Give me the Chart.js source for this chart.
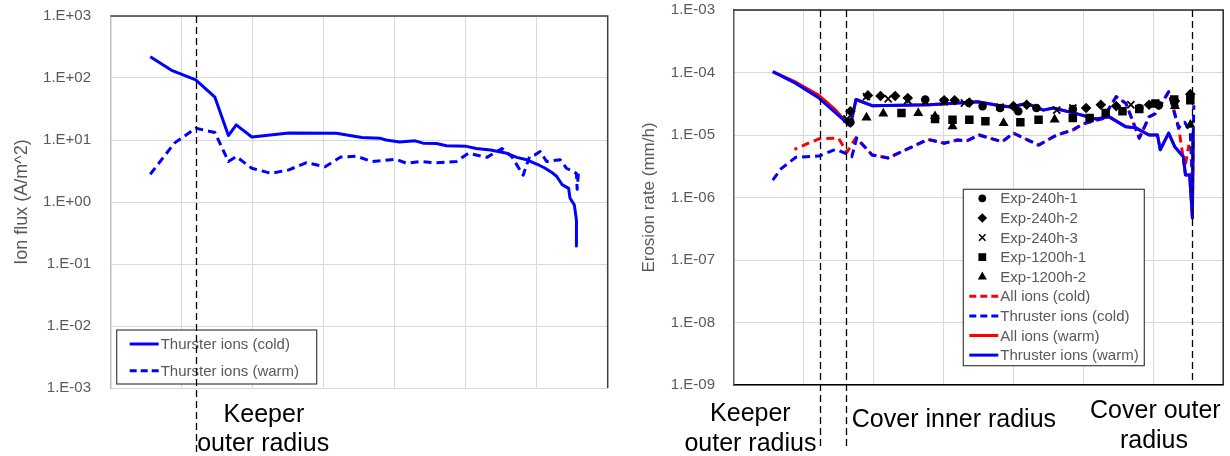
<!DOCTYPE html>
<html>
<head>
<meta charset="utf-8">
<script src="https://cdn.jsdelivr.net/npm/chart.js@4.4.1/dist/chart.umd.min.js"></script>
<style>
  html, body { margin: 0; padding: 0; background: #fff; }
  #wrap { position: relative; width: 1230px; height: 456px; overflow: hidden; }
  canvas { position: absolute; top: 0; }
</style>
</head>
<body>
<div id="wrap">
  <canvas id="flux" width="615" height="456" style="left:0;width:615px;height:456px"></canvas>
  <canvas id="erosion" width="615" height="456" style="left:615px;width:615px;height:456px"></canvas>
</div>
<script>
'use strict';

var FONT = '"Liberation Sans", Arial, sans-serif';

// x positions are in units of the (unlabelled) vertical grid spacing
var xGridTicks = [0, 1, 2, 3, 4, 5, 6, 7];

/////////////////////////////////////////////////////////////////////////////////
// Left panel: ion flux

var fluxTicks = [1e-3, 1e-2, 1e-1, 1e0, 1e1, 1e2, 1e3];

var coldX = [0.56, 0.87, 1.20, 1.47, 1.66, 1.77, 1.99, 2.51, 3.18, 3.54, 3.79, 3.88, 4.07, 4.29, 4.40, 4.59, 4.73,
    5.01, 5.15, 5.35, 5.58, 5.72, 5.86, 6.00, 6.12, 6.23, 6.28, 6.36, 6.45, 6.47, 6.53, 6.56, 6.56];
var coldFlux = [221, 131, 93, 49, 11.8, 17.5, 11.2, 13, 12.8, 11, 10.7, 10, 9.3, 9.7, 8.9, 8.8, 8.1,
    7.9, 7.3, 6.9, 6.1, 5.25, 4.8, 4.1, 3.5, 2.9, 2.6, 1.9, 1.66, 1.15, 0.9, 0.51, 0.195];

var warmX = [0.56, 0.90, 1.20, 1.47, 1.66, 1.77, 1.99, 2.26, 2.51, 2.76, 3.02, 3.24, 3.46, 3.68,
    4.02, 4.17, 4.36, 4.58, 4.87, 5.04, 5.30, 5.51, 5.65, 5.81, 5.90, 5.97, 6.05, 6.14, 6.33, 6.42, 6.56, 6.57, 6.59];
var warmFlux = [2.8, 8.9, 15.5, 13.2, 4.5, 5.4, 3.5, 2.9, 3.3, 4.3, 3.7, 5.3, 5.5, 4.5,
    4.9, 4.2, 4.5, 4.3, 4.5, 6.1, 5.25, 7.3, 5.4, 2.7, 5.4, 5.7, 6.5, 4.5, 4.8, 3.5, 2.9, 1.6, 3.2];

var fluxGuides = [1.20];
var fluxNotes = ['Keeper', 'outer radius'];

/////////////////////////////////////////////////////////////////////////////////
// Right panel: erosion rate

var erosionTicks = [1e-9, 1e-8, 1e-7, 1e-6, 1e-5, 1e-4, 1e-3];

var exp240h1X = [1.67, 2.74, 3.56, 3.81, 4.07, 4.33, 4.85, 5.80, 6.08, 6.53];
var exp240h1 = [1.6e-5, 3.7e-5, 2.9e-5, 2.7e-5, 2.4e-5, 2.7e-5, 2.6e-5, 2.7e-5, 3.0e-5, 4.2e-5];

var exp240h2X = [1.67, 1.92, 2.10, 2.31, 2.49, 3.01, 3.16, 3.37, 4.00, 4.19, 5.04, 5.25, 5.47, 5.94, 6.31, 6.53];
var exp240h2 = [2.4e-5, 4.3e-5, 4.2e-5, 4.2e-5, 3.9e-5, 3.6e-5, 3.6e-5, 3.3e-5, 2.9e-5, 3.05e-5, 2.7e-5,
    3.05e-5, 2.9e-5, 3.05e-5, 3.5e-5, 4.5e-5];

var exp240h3X = [1.62, 1.90, 2.21, 2.49, 2.74, 3.01, 3.30, 3.81, 4.62, 4.85, 5.68, 6.31];
var exp240h3 = [1.8e-5, 4.1e-5, 3.8e-5, 3.6e-5, 3.4e-5, 3.4e-5, 3.25e-5, 2.8e-5, 2.5e-5, 2.7e-5, 3.05e-5, 3.3e-5];

var exp1200h1X = [2.40, 2.88, 3.13, 3.37, 3.60, 4.10, 4.36, 4.85, 5.09, 5.32, 5.56, 5.80, 6.03, 6.30, 6.53];
var exp1200h1 = [2.25e-5, 1.8e-5, 1.76e-5, 1.76e-5, 1.66e-5, 1.6e-5, 1.76e-5, 1.87e-5, 1.87e-5, 2.25e-5,
    2.4e-5, 2.6e-5, 3.2e-5, 3.7e-5, 3.6e-5];

var exp1200h2X = [1.90, 2.14, 2.64, 2.88, 3.13, 3.86, 4.59, 6.31, 6.53];
var exp1200h2 = [1.9e-5, 2.2e-5, 2.25e-5, 2.0e-5, 1.38e-5, 1.55e-5, 1.76e-5, 2.9e-5, 1.46e-5];

var allColdX = [0.87, 1.22, 1.50, 1.62, 1.75, 1.98, 2.21, 2.78, 3.01, 3.20, 3.34, 3.51, 3.84, 4.00, 4.36, 4.62,
    4.85, 4.99, 5.28, 5.47, 5.61, 5.80, 5.94, 6.03, 6.22, 6.36, 6.45, 6.51];
var allCold = [5.9e-6, 8.7e-6, 8.9e-6, 5.3e-6, 9.1e-6, 4.8e-6, 4.3e-6, 8.5e-6, 7.4e-6, 8.3e-6, 8.1e-6, 1.0e-5,
    7.8e-6, 1.07e-5, 6.9e-6, 1.0e-5, 1.2e-5, 1.5e-5, 1.84e-5, 4.1e-5, 3.2e-5, 8.9e-6, 1.95e-5, 2.2e-5,
    4.9e-5, 1.4e-5, 2.9e-6, 7.0e-6];

var thrColdX = [0.56, 0.68, 0.89, 1.22, 1.46, 1.60, 1.69, 1.76, 1.98, 2.21, 2.78, 3.01, 3.20, 3.34, 3.51, 3.84,
    4.00, 4.36, 4.62, 4.85, 4.99, 5.28, 5.47, 5.61, 5.80, 5.94, 6.03, 6.22, 6.36, 6.45, 6.53, 6.56, 6.58];
var thrCold = [1.9e-6, 2.9e-6, 4.4e-6, 4.6e-6, 5.9e-6, 5.1e-6, 4.5e-6, 8.9e-6, 4.8e-6, 4.3e-6, 8.5e-6, 7.4e-6,
    8.3e-6, 8.1e-6, 1.0e-5, 7.8e-6, 1.07e-5, 6.9e-6, 1.0e-5, 1.2e-5, 1.5e-5, 1.84e-5, 4.1e-5, 3.2e-5, 8.9e-6,
    1.95e-5, 2.2e-5, 4.9e-5, 1.3e-5, 1.6e-5, 1.1e-5, 1.5e-6, 3.0e-5];

var allWarmX = [0.56, 0.89, 1.22, 1.46, 1.62, 1.67, 1.75, 1.98, 2.80, 3.49, 3.77, 3.96, 4.19, 4.43, 4.57, 4.90,
    5.18, 5.37, 5.61, 5.75, 5.94, 6.06, 6.10, 6.22, 6.31, 6.43, 6.46, 6.52, 6.56, 6.57];
var allWarm = [1.03e-4, 7.0e-5, 4.3e-5, 2.5e-5, 1.55e-5, 1.45e-5, 3.7e-5, 2.95e-5, 3.05e-5, 3.4e-5, 3.0e-5,
    2.8e-5, 3.2e-5, 2.5e-5, 2.7e-5, 2.2e-5, 1.8e-5, 1.95e-5, 1.35e-5, 1.3e-5, 1.0e-5, 1.0e-5, 5.8e-6, 1.07e-5,
    6.4e-6, 4.5e-6, 2.3e-6, 2.3e-6, 4.7e-7, 1.0e-5];

var thrWarmX = [0.56, 0.89, 1.22, 1.60, 1.67, 1.75, 1.98, 2.80, 3.49, 3.77, 3.96, 4.19, 4.43, 4.57, 4.90, 5.18,
    5.37, 5.61, 5.75, 5.94, 6.06, 6.10, 6.22, 6.31, 6.43, 6.46, 6.52, 6.56, 6.57];
var thrWarm = [1.03e-4, 6.7e-5, 3.9e-5, 1.63e-5, 1.39e-5, 3.7e-5, 2.95e-5, 3.05e-5, 3.4e-5, 3.0e-5, 2.8e-5,
    3.2e-5, 2.5e-5, 2.7e-5, 2.2e-5, 1.8e-5, 1.95e-5, 1.35e-5, 1.3e-5, 1.0e-5, 1.0e-5, 5.8e-6, 1.07e-5,
    6.4e-6, 4.5e-6, 2.3e-6, 2.3e-6, 4.7e-7, 1.0e-5];

var erosionGuides = [1.23, 1.60, 6.55];
var erosionNotes = ['Keeper', 'outer radius', 'Cover inner radius', 'Cover outer', 'radius'];

/////////////////////////////////////////////////////////////////////////////////
// Helpers

function pts(xs, ys) {
    return xs.map(function(x, i) { return {x: x, y: ys[i]}; });
}

function sciLabel(v) {
    var e = Math.round(Math.log10(v));
    return '1.E' + (e < 0 ? '-' : '+') + String(Math.abs(e)).padStart(2, '0');
}

function lineSet(label, xs, ys, color, dash, order, dashOffset) {
    return {
        label: label, data: pts(xs, ys), showLine: true, order: order,
        borderColor: color, backgroundColor: color, borderWidth: 3,
        borderDash: dash || [], borderDashOffset: dashOffset || 0,
        borderCapStyle: 'butt', borderJoinStyle: 'round',
        pointRadius: 0, tension: 0
    };
}

function markerSet(label, xs, ys, style, radius) {
    return {
        label: label, data: pts(xs, ys), showLine: false, order: 0,
        pointStyle: style, pointRadius: radius, pointHoverRadius: radius,
        backgroundColor: '#000', borderColor: '#000', borderWidth: style === 'crossRot' ? 1.8 : 0
    };
}

// legend glyphs, same shapes as the chart markers
function drawMarker(ctx, style, x, y, r) {
    ctx.beginPath();
    if (style === 'circle') {
        ctx.arc(x, y, r, 0, Math.PI * 2);
        ctx.fill();
    } else if (style === 'rectRot') {
        ctx.moveTo(x, y - r); ctx.lineTo(x + r, y); ctx.lineTo(x, y + r); ctx.lineTo(x - r, y);
        ctx.closePath(); ctx.fill();
    } else if (style === 'rect') {
        ctx.rect(x - r * 0.72, y - r * 0.72, r * 1.44, r * 1.44);
        ctx.fill();
    } else if (style === 'triangle') {
        ctx.moveTo(x, y - r); ctx.lineTo(x + r * 0.87, y + r * 0.55); ctx.lineTo(x - r * 0.87, y + r * 0.55);
        ctx.closePath(); ctx.fill();
    } else if (style === 'crossRot') {
        var d = r * 0.72;
        ctx.lineWidth = 1.6;
        ctx.moveTo(x - d, y - d); ctx.lineTo(x + d, y + d);
        ctx.moveTo(x + d, y - d); ctx.lineTo(x - d, y + d);
        ctx.stroke();
    }
}

// frame edges, legend box, dashed guide lines and the radius notes
function decor(cfg) {
    return {
        id: 'decor',
        afterDraw: function(chart) {
            var ctx = chart.ctx;
            var a = chart.chartArea;
            var xs = chart.scales.x;
            ctx.save();

            ctx.strokeStyle = cfg.frameColor;
            ctx.lineWidth = 1.5;
            ctx.beginPath();
            ctx.moveTo(a.left, a.top);
            ctx.lineTo(a.right, a.top);
            ctx.lineTo(a.right, a.bottom);
            ctx.stroke();

            // legend
            var lg = cfg.legend;
            ctx.fillStyle = '#fff';
            ctx.fillRect(lg.x, lg.y, lg.w, lg.h);
            ctx.strokeStyle = '#404040';
            ctx.lineWidth = 1.2;
            ctx.strokeRect(lg.x, lg.y, lg.w, lg.h);
            ctx.font = '15px ' + FONT;
            ctx.textBaseline = 'middle';
            ctx.textAlign = 'left';
            chart.data.datasets.forEach(function(ds, i) {
                var y = lg.y + lg.first + i * lg.step;
                ctx.fillStyle = ds.backgroundColor;
                ctx.strokeStyle = ds.borderColor;
                if (ds.showLine) {
                    ctx.lineWidth = 3;
                    ctx.setLineDash(ds.borderDash.length ? [7, 4] : []);
                    ctx.beginPath();
                    ctx.moveTo(lg.x + lg.sample[0], y);
                    ctx.lineTo(lg.x + lg.sample[1], y);
                    ctx.stroke();
                    ctx.setLineDash([]);
                } else {
                    drawMarker(ctx, ds.pointStyle, lg.x + lg.marker, y, ds.pointRadius * lg.markerScale);
                }
                ctx.fillStyle = '#595959';
                ctx.fillText(ds.label, lg.x + lg.text, y + 1);
            });

            // dashed guide lines
            ctx.setLineDash([7, 4]);
            ctx.strokeStyle = '#000';
            ctx.lineWidth = 1.3;
            cfg.guides.forEach(function(v, i) {
                var px = Math.round(xs.getPixelForValue(v)) + 0.5;
                ctx.beginPath();
                ctx.moveTo(px, a.top);
                ctx.lineTo(px, cfg.guideEnds[i]);
                ctx.stroke();
            });
            ctx.setLineDash([]);

            // notes under the axis
            ctx.fillStyle = '#000';
            ctx.font = '25px ' + FONT;
            ctx.textAlign = 'center';
            ctx.textBaseline = 'alphabetic';
            cfg.notes.forEach(function(text, i) {
                var p = cfg.notePos[i];
                ctx.fillText(text, xs.getPixelForValue(p[0]), p[1]);
            });

            ctx.restore();
        }
    };
}

function xAxis(borderColor, borderWidth) {
    return {
        type: 'linear', min: 0, max: 7,
        afterBuildTicks: function(s) { s.ticks = xGridTicks.map(function(v) { return {value: v}; }); },
        afterFit: function(s) { s.height = 0; s.paddingLeft = 0; s.paddingRight = 0; },
        ticks: {display: false},
        grid: {color: '#d9d9d9', lineWidth: 1, drawTicks: false},
        border: {color: borderColor, width: borderWidth}
    };
}

function yAxis(ticks, title, width, tickPad, titlePad, titleSize, borderColor) {
    return {
        type: 'logarithmic',
        min: ticks[0], max: ticks[ticks.length - 1],
        afterBuildTicks: function(s) { s.ticks = ticks.map(function(v) { return {value: v}; }); },
        // fixed axis width; drop the label overhang so the plot top sits on the layout padding
        afterFit: function(s) { s.width = width; s.paddingTop = 0; s.paddingBottom = 0; },
        ticks: {
            callback: function(v) { return sciLabel(v); },
            color: '#595959', font: {family: FONT, size: 15}, padding: tickPad, autoSkip: false
        },
        grid: {color: '#d9d9d9', lineWidth: 1, drawTicks: false},
        border: {color: borderColor, width: 1.5},
        title: {
            display: true, text: title, color: '#595959',
            font: {family: FONT, size: titleSize}, padding: {top: titlePad, bottom: 0}
        }
    };
}

var baseOptions = {
    responsive: false,
    animation: false,
    devicePixelRatio: 1,
    plugins: {legend: {display: false}, tooltip: {enabled: false}}
};

/////////////////////////////////////////////////////////////////////////////////
// Left chart

new Chart(document.getElementById('flux'), {
    type: 'scatter',
    data: {
        datasets: [
            lineSet('Thurster ions (cold)', coldX, coldFlux, '#0000ff', null, 1),
            lineSet('Thurster ions (warm)', warmX, warmFlux, '#0000ff', [8, 5], 2)
        ]
    },
    options: Object.assign({}, baseOptions, {
        layout: {padding: {left: 0, top: 16, right: 7.3, bottom: 68}},
        scales: {
            x: xAxis('#d9d9d9', 1),
            y: yAxis(fluxTicks, 'Ion flux (A/m^2)', 110.5, 19.5, 11.5, 18, '#bfbfbf')
        }
    }),
    plugins: [decor({
        frameColor: '#404040',
        legend: {x: 116.7, y: 330, w: 200, h: 54, first: 14, step: 26.7, sample: [13, 42], text: 44, marker: 20, markerScale: 0.8},
        guides: fluxGuides,
        guideEnds: [452],
        notes: fluxNotes,
        notePos: [[2.16, 422], [2.15, 451]]
    })]
});

/////////////////////////////////////////////////////////////////////////////////
// Right chart

new Chart(document.getElementById('erosion'), {
    type: 'scatter',
    data: {
        datasets: [
            markerSet('Exp-240h-1', exp240h1X, exp240h1, 'circle', 4.3),
            markerSet('Exp-240h-2', exp240h2X, exp240h2, 'rectRot', 5.3),
            markerSet('Exp-240h-3', exp240h3X, exp240h3, 'crossRot', 5),
            markerSet('Exp-1200h-1', exp1200h1X, exp1200h1, 'rect', 6),
            markerSet('Exp-1200h-2', exp1200h2X, exp1200h2, 'triangle', 5.8),
            lineSet('All ions (cold)', allColdX, allCold, '#ff0000', [8, 5], 4, 5),
            lineSet('Thruster ions (cold)', thrColdX, thrCold, '#0000ff', [8, 5], 3),
            lineSet('All ions (warm)', allWarmX, allWarm, '#ff0000', null, 2),
            lineSet('Thruster ions (warm)', thrWarmX, thrWarm, '#0000ff', null, 1)
        ]
    },
    options: Object.assign({}, baseOptions, {
        layout: {padding: {left: 0, top: 10, right: 2, bottom: 71}},
        scales: {
            x: xAxis('#000', 1.5),
            y: yAxis(erosionTicks, 'Erosion rate (mm/h)', 118.6, 18.6, 24.5, 17, '#595959')
        }
    }),
    plugins: [decor({
        frameColor: '#262626',
        legend: {x: 348.3, y: 189.3, w: 181, h: 176.4, first: 9, step: 19.6, sample: [6, 35], text: 37, marker: 19, markerScale: 0.9},
        guides: erosionGuides,
        guideEnds: [450, 450, 385],
        notes: erosionNotes,
        notePos: [[0.24, 421], [0.24, 451], [3.15, 427], [6.03, 418], [6.01, 448]]
    })]
});
</script>
</body>
</html>
